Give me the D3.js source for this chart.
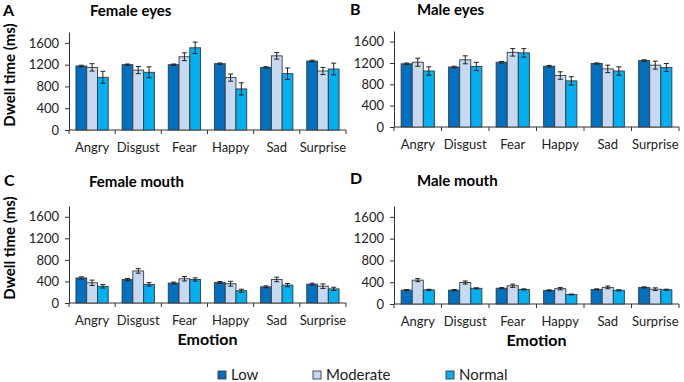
<!DOCTYPE html>
<html>
<head>
<meta charset="utf-8">
<script src="https://cdn.jsdelivr.net/npm/d3@7"></script>
<style>
  body { margin: 0; background: #fff; }
  svg { font-family: Lato, "Noto Sans", sans-serif; }
</style>
</head>
<body>
<div id="chart"></div>
<script>
// Categories and series
var emotions = ["Angry", "Disgust", "Fear", "Happy", "Sad", "Surprise"]
var groups = ["Low", "Moderate", "Normal"]
var color = ["#0070C0", "#C6D9F1", "#00B0F0"]
var yTicks = [0, 400, 800, 1200, 1600]

// Panel A: female eyes
var femaleEyesLow = [1175, 1200, 1200, 1218, 1150, 1267]
var femaleEyesMod = [1150, 1100, 1345, 962, 1362, 1084]
var femaleEyesNorm = [968, 1060, 1510, 755, 1035, 1120]
var femaleEyesLowErr = [15, 12, 12, 12, 12, 15]
var femaleEyesModErr = [68, 65, 72, 65, 60, 65]
var femaleEyesNormErr = [110, 100, 105, 112, 105, 108]

// Panel B: male eyes
var maleEyesLow = [1185, 1125, 1215, 1140, 1190, 1245]
var maleEyesMod = [1215, 1260, 1400, 965, 1090, 1160]
var maleEyesNorm = [1050, 1135, 1390, 865, 1050, 1115]
var maleEyesLowErr = [15, 15, 15, 15, 12, 15]
var maleEyesModErr = [75, 75, 70, 70, 70, 75]
var maleEyesNormErr = [78, 78, 80, 78, 78, 75]

// Panel C: female mouth
var femaleMouthLow = [465, 435, 370, 380, 300, 350]
var femaleMouthMod = [375, 595, 450, 358, 437, 312]
var femaleMouthNorm = [310, 345, 437, 228, 332, 262]
var femaleMouthLowErr = [20, 20, 18, 18, 18, 18]
var femaleMouthModErr = [50, 42, 42, 45, 42, 42]
var femaleMouthNormErr = [32, 32, 30, 28, 30, 30]

// Panel D: male mouth
var maleMouthLow = [255, 255, 290, 250, 268, 305]
var maleMouthMod = [438, 395, 335, 282, 305, 272]
var maleMouthNorm = [260, 288, 268, 175, 252, 262]
var maleMouthLowErr = [10, 10, 10, 10, 10, 10]
var maleMouthModErr = [28, 28, 30, 22, 25, 25]
var maleMouthNormErr = [10, 10, 10, 8, 10, 10]

var width = 684
var height = 382

var svg = d3.select('#chart')
    .append('svg')
    .attr('width', width)
    .attr('height', height)

// Panel layout
var panels = [
    { letter: "A", title: "Female eyes", x0: 69, x1: 346, base: 130, top: 32,
      series: [femaleEyesLow, femaleEyesMod, femaleEyesNorm],
      errs: [femaleEyesLowErr, femaleEyesModErr, femaleEyesNormErr],
      letterX: 3, letterY: 16, titleX: 90, titleY: 16, ylabel: true, xlabel: false },
    { letter: "B", title: "Male eyes", x0: 394, x1: 679, base: 127, top: 31,
      series: [maleEyesLow, maleEyesMod, maleEyesNorm],
      errs: [maleEyesLowErr, maleEyesModErr, maleEyesNormErr],
      letterX: 350, letterY: 15, titleX: 417, titleY: 15, ylabel: false, xlabel: false },
    { letter: "C", title: "Female mouth", x0: 69, x1: 346, base: 303, top: 206,
      series: [femaleMouthLow, femaleMouthMod, femaleMouthNorm],
      errs: [femaleMouthLowErr, femaleMouthModErr, femaleMouthNormErr],
      letterX: 4, letterY: 186, titleX: 89, titleY: 187, ylabel: true, xlabel: true },
    { letter: "D", title: "Male mouth", x0: 394, x1: 679, base: 304, top: 206,
      series: [maleMouthLow, maleMouthMod, maleMouthNorm],
      errs: [maleMouthLowErr, maleMouthModErr, maleMouthNormErr],
      letterX: 350, letterY: 184, titleX: 417, titleY: 186, ylabel: false, xlabel: true }
]

panels.forEach(function (p) {
    var g = svg.append('g')

    var xScale = d3.scaleBand()
        .domain(emotions)
        .range([p.x0, p.x1])
        .paddingInner(0.3)
        .paddingOuter(0.15)

    var xInner = d3.scaleBand()
        .domain(groups)
        .range([0, xScale.bandwidth()])
        .padding(0)

    var yScale = d3.scaleLinear()
        .domain([0, 1800])
        .range([p.base, p.top])

    // y axis
    var yAxis = d3.axisLeft(yScale)
        .tickValues(yTicks)
        .tickFormat(d3.format("d"))
        .tickSize(4)
        .tickPadding(6)
        .tickSizeOuter(0)
    var ya = g.append('g')
        .attr('transform', 'translate(' + p.x0 + ',0)')
        .call(yAxis)
    ya.selectAll('text').attr('font-size', 13).attr('fill', '#222').attr('font-family', 'Lato, sans-serif')
    ya.selectAll('line, path').attr('stroke', '#333')

    // x axis (category boundaries as ticks)
    var step = xScale.step()
    g.append('line')
        .attr('x1', p.x0).attr('x2', p.x1)
        .attr('y1', p.base).attr('y2', p.base)
        .attr('stroke', '#333')
    g.selectAll('.xtick')
        .data(emotions.concat(["end"]))
        .join('line')
        .attr('x1', (d, i) => p.x0 + i * step)
        .attr('x2', (d, i) => p.x0 + i * step)
        .attr('y1', p.base)
        .attr('y2', p.base + 4)
        .attr('stroke', '#333')
    g.selectAll('.xlab')
        .data(emotions)
        .join('text')
        .attr('x', d => xScale(d) + xScale.bandwidth() / 2)
        .attr('y', p.base + 22)
        .attr('text-anchor', 'middle')
        .attr('font-size', 13)
        .attr('fill', '#222')
        .text(d => d)

    // bars
    var rows = emotions.map((e, i) => groups.map((s, j) => ({
        emotion: e, group: s, j: j, value: p.series[j][i], err: p.errs[j][i]
    })))

    var cat = g.append('g')
        .selectAll('g')
        .data(rows)
        .join('g')
        .attr('transform', (d, i) => 'translate(' + xScale(emotions[i]) + ',0)')

    cat.selectAll('rect')
        .data(d => d)
        .join('rect')
        .attr('x', d => xInner(d.group))
        .attr('y', d => yScale(d.value))
        .attr('width', xInner.bandwidth())
        .attr('height', d => p.base - yScale(d.value))
        .attr('fill', d => color[d.j])
        .attr('stroke', '#3a3a3a')
        .attr('stroke-width', 0.9)

    // error bars
    var eb = cat.selectAll('.err')
        .data(d => d)
        .join('g')
        .attr('transform', d => 'translate(' + (xInner(d.group) + xInner.bandwidth() / 2) + ',0)')
    eb.append('line')
        .attr('y1', d => yScale(d.value + d.err))
        .attr('y2', d => yScale(d.value - d.err))
        .attr('stroke', '#222').attr('stroke-width', 1)
    eb.append('line')
        .attr('x1', -2.5).attr('x2', 2.5)
        .attr('y1', d => yScale(d.value + d.err))
        .attr('y2', d => yScale(d.value + d.err))
        .attr('stroke', '#222').attr('stroke-width', 1)
    eb.append('line')
        .attr('x1', -2.5).attr('x2', 2.5)
        .attr('y1', d => yScale(d.value - d.err))
        .attr('y2', d => yScale(d.value - d.err))
        .attr('stroke', '#222').attr('stroke-width', 1)

    // letter and title
    g.append('text')
        .attr('x', p.letterX).attr('y', p.letterY)
        .attr('font-size', 16).attr('font-weight', 'bold')
        .text(p.letter)
    g.append('text')
        .attr('x', p.titleX).attr('y', p.titleY)
        .attr('font-size', 15).attr('font-weight', 'bold')
        .text(p.title)

    if (p.ylabel) {
        g.append('text')
            .attr('transform', 'translate(15,' + (p.base - 55) + ')rotate(-90)')
            .attr('text-anchor', 'middle')
            .attr('font-size', 15).attr('font-weight', 'bold')
            .text("Dwell time (ms)")
    }
    if (p.xlabel) {
        g.append('text')
            .attr('x', (p.x0 + p.x1) / 2)
            .attr('y', p.base + 42)
            .attr('text-anchor', 'middle')
            .attr('font-size', 16).attr('font-weight', 'bold')
            .text("Emotion")
    }
})

// Legend
var legendX = [218, 313, 446]
var legend = svg.append('g')
groups.forEach(function (s, v) {
    var row = legend.append('g')
        .attr('transform', 'translate(' + legendX[v] + ',371)')
    row.append('rect')
        .attr('width', 8).attr('height', 8)
        .attr('fill', color[v])
        .attr('stroke', '#3a3a3a').attr('stroke-width', 0.9)
    row.append('text')
        .attr('x', 13).attr('y', 9)
        .attr('font-size', 15)
        .attr('fill', '#222')
        .text(s)
})
</script>
</body>
</html>
